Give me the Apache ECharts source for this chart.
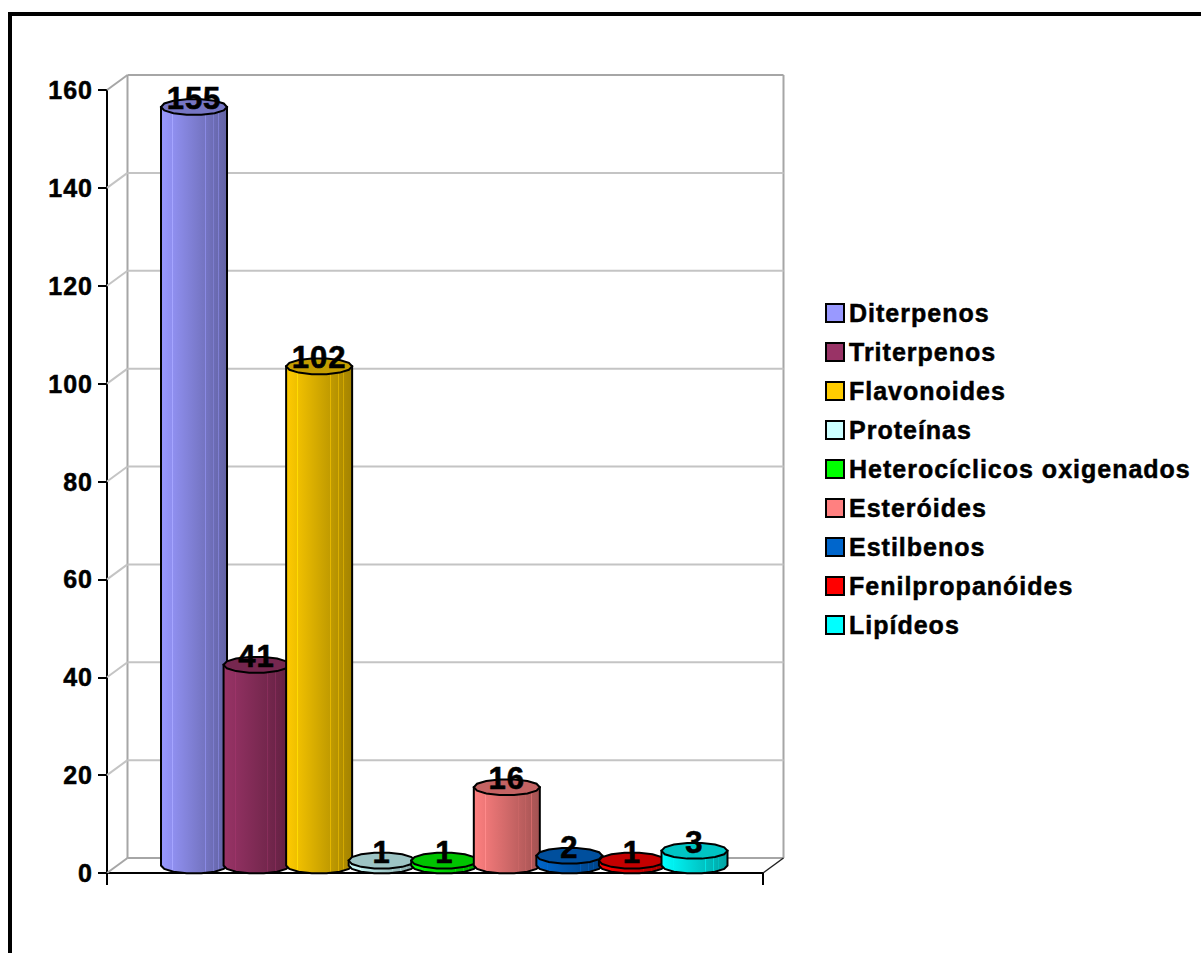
<!DOCTYPE html>
<html>
<head>
<meta charset="utf-8">
<style>
html,body{margin:0;padding:0;background:#fff;overflow:hidden}
#chart{width:1201px;height:953px}
#chart svg text{letter-spacing:1px}
</style>
<script src="https://cdn.jsdelivr.net/npm/echarts@6/dist/echarts.min.js"></script>
</head>
<body>
<div id="chart"></div>
<script>
// Compound classes and their counts
const categories = ['Diterpenos','Triterpenos','Flavonoides','Proteínas','Heterocíclicos oxigenados','Esteróides','Estilbenos','Fenilpropanóides','Lipídeos'];
const counts = [155,41,102,1,1,16,2,1,3];
const colors = ['#9999ff','#993366','#ffcc00','#ccffff','#00ff00','#ff8080','#0066cc','#ff0000','#00ffff'];
const yTicks = [0,20,40,60,80,100,120,140,160];

const FONT = '"Liberation Sans", Arial, sans-serif';
const DEPTH_X = 20.5, DEPTH_Y = 15;
const BAR_STEP = 62.56, BAR_SHIFT = 9.25, RX = 33, RY = 8, FACETS = 14;

function shade(hex, f) {
  const n = parseInt(hex.slice(1), 16);
  const c = [n >> 16 & 255, n >> 8 & 255, n & 255].map(v => Math.min(255, Math.round(v * f)));
  return 'rgb(' + c.join(',') + ')';
}

// Horizontal shading of a cylinder, with the thin highlights along its facets
function bodyFill(hex) {
  const stops = [];
  const add = (t, f) => stops.push({ offset: t, color: shade(hex, f) });
  const base = t => 1 - 0.36 * t;
  add(0, base(0));
  [0.175, 0.67, 0.79, 0.87].forEach(t => {
    add(t - 0.008, base(t));
    add(t - 0.004, base(t) + 0.14);
    add(t + 0.004, base(t) + 0.14);
    add(t + 0.008, base(t));
  });
  add(1, base(1));
  return { type: 'linear', x: 0, y: 0, x2: 1, y2: 0, colorStops: stops };
}

function arc(cx, cy, from, to) {
  const pts = [];
  for (let k = 0; k <= FACETS / 2; k++) {
    const a = from + (to - from) * k / (FACETS / 2);
    pts.push([cx + RX * Math.cos(a), cy + RY * Math.sin(a)]);
  }
  return pts;
}

function cylinderSeries(name, i) {
  return {
    name, type: 'custom', itemStyle: { color: colors[i] },
    encode: { x: 0, y: 1 },
    data: [[0, counts[i]]],
    renderItem(params, api) {
      const top = api.coord([0, api.value(1)]);
      const base = api.coord([0, 0]);
      const cx = top[0] + (i - 4) * BAR_STEP + BAR_SHIFT;
      const yTop = top[1] - DEPTH_Y / 2;
      const yBase = base[1] - DEPTH_Y / 2;
      // Side wall: closes around the lower half of the base disc
      const side = [[cx + RX, yTop]].concat(arc(cx, yBase, 0, Math.PI), [[cx - RX, yTop]]);
      // Upper disc, seen from above
      const disc = arc(cx, yTop, 0, Math.PI).concat(arc(cx, yTop, Math.PI, 2 * Math.PI).slice(1, -1));
      return {
        type: 'group',
        children: [
          { type: 'polygon', shape: { points: side }, style: { fill: bodyFill(colors[i]), stroke: '#000', lineWidth: 2 } },
          { type: 'polygon', shape: { points: disc }, style: { fill: shade(colors[i], 0.77), stroke: '#000', lineWidth: 2 } },
          { type: 'text', z2: 100, style: { text: String(api.value(1)), x: cx, y: top[1] - 16, align: 'center', verticalAlign: 'middle', fill: '#000', stroke: '#000', lineWidth: 0.6, font: 'bold 31px ' + FONT } }
        ]
      };
    }
  };
}

// Back wall, side wall and floor of the 3D box, with the gridlines wrapping both walls
const wallSeries = {
  type: 'custom', silent: true, encode: { y: 0 }, data: yTicks.map(v => [v]),
  renderItem(params, api) {
    const v = api.value(0);
    const y = api.coord([0, v])[1];
    const x0 = params.coordSys.x, x1 = x0 + params.coordSys.width;
    const edge = v === 0 || v === yTicks[yTicks.length - 1];
    const col = edge ? '#a6a6a6' : '#c4c4c4';
    const ln = (a, b, c, d, stroke, w) => ({ type: 'line', shape: { x1: a, y1: b, x2: c, y2: d }, style: { stroke, lineWidth: w } });
    const children = [
      ln(x0, y, x0 + DEPTH_X, y - DEPTH_Y, col, 2),
      ln(x0 + DEPTH_X, y - DEPTH_Y, x1 + DEPTH_X, y - DEPTH_Y, col, 2)
    ];
    if (v === 0) {
      const h = params.coordSys.height;
      children.push(ln(x0 + DEPTH_X, y - DEPTH_Y, x0 + DEPTH_X, y - h - DEPTH_Y, '#a6a6a6', 2));
      children.push(ln(x1 + DEPTH_X, y - DEPTH_Y, x1 + DEPTH_X, y - h - DEPTH_Y, '#a6a6a6', 2));
      children.push(ln(x1, y, x1 + DEPTH_X, y - DEPTH_Y, '#222', 1.5));
      // End ticks of the horizontal axis
      children.push(ln(x0, y, x0, y + 12, '#000', 2));
      children.push(ln(x1, y, x1, y + 12, '#000', 2));
    }
    return { type: 'group', children };
  }
};

const chart = echarts.init(document.getElementById('chart'), null, { renderer: 'svg' });
chart.setOption({
  animation: false,
  backgroundColor: '#fff',
  graphic: [{ type: 'rect', shape: { x: 10, y: 14, width: 1400, height: 1200 }, style: { fill: 'none', stroke: '#000', lineWidth: 4 }, silent: true }],
  grid: { left: 107, top: 90, width: 656, height: 783 },
  legend: {
    left: 825, top: 300, padding: 0, orient: 'vertical', icon: 'rect', selectedMode: false,
    data: categories, itemWidth: 18, itemHeight: 18, itemGap: 13,
    itemStyle: { borderColor: '#000', borderWidth: 2 },
    textStyle: { color: '#000', fontFamily: FONT, fontWeight: 'bold', fontSize: 25, lineHeight: 26, padding: 0, textBorderColor: '#000', textBorderWidth: 0.5 }
  },
  xAxis: {
    type: 'category', data: [''],
    axisLine: { lineStyle: { color: '#000', width: 2 } },
    axisTick: { show: false },
    axisLabel: { show: false }, splitLine: { show: false }
  },
  yAxis: {
    type: 'value', min: 0, max: 160, interval: 20,
    axisLine: { show: true, lineStyle: { color: '#000', width: 2 } },
    axisTick: { show: true, length: 9, lineStyle: { color: '#000', width: 2 } },
    axisLabel: { color: '#000', fontFamily: FONT, fontWeight: 'bold', fontSize: 25, margin: 14, padding: [4, 0, 0, 0], textBorderColor: '#000', textBorderWidth: 0.5 },
    splitLine: { show: false }
  },
  series: [wallSeries].concat(categories.map(cylinderSeries))
});
</script>
</body>
</html>
